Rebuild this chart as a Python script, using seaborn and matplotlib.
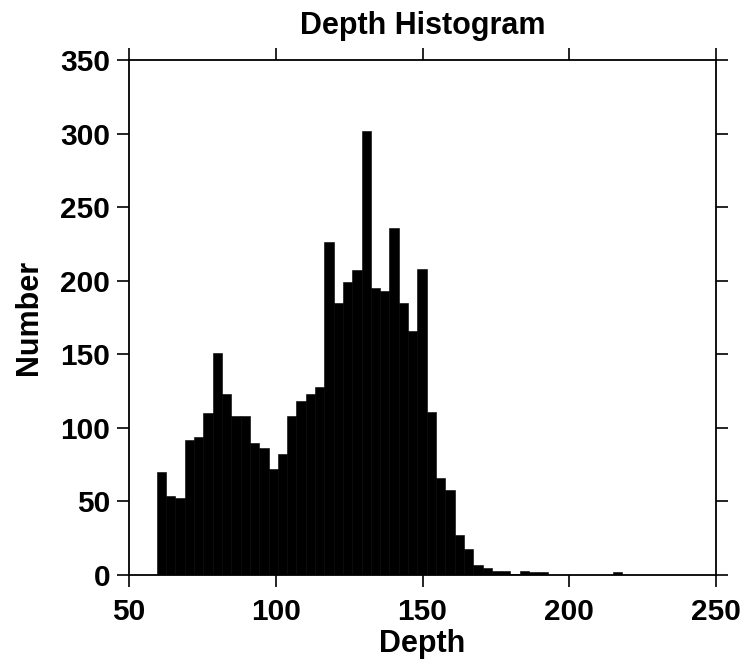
import numpy as np
import pandas as pd
import matplotlib
matplotlib.use("Agg")
import matplotlib.pyplot as plt
import seaborn as sns

# ---- data ----
depth_min = 59.5
depth_max = 218.0
n_bins = 50
counts = [70, 54, 52, 92, 94, 110, 151, 123, 108, 108,
          90, 86, 72, 82, 108, 118, 123, 128, 226, 185,
          199, 207, 302, 195, 193, 236, 185, 166, 208, 111,
          66, 58, 27, 18, 7, 5, 3, 3, 1, 3,
          2, 2, 0, 0, 0, 0, 0, 0, 0, 2]
x_ticks = [50, 100, 150, 200, 250]
y_ticks = [0, 50, 100, 150, 200, 250, 300, 350]
title = "Depth Histogram"
x_label = "Depth"
y_label = "Number"

edges = np.linspace(depth_min, depth_max, n_bins + 1)
centers = (edges[:-1] + edges[1:]) / 2
df = pd.DataFrame({"depth": centers, "count": counts})

sns.set_style("ticks")
plt.rcParams['font.family'] = ['Liberation Sans', 'DejaVu Sans']
plt.rcParams['font.weight'] = 'bold'
plt.rcParams['text.color'] = 'black'
plt.rcParams['axes.labelcolor'] = 'black'
plt.rcParams['xtick.color'] = 'black'
plt.rcParams['ytick.color'] = 'black'

fig = plt.figure(figsize=(7.44, 6.66), dpi=100)
W, H = 744, 666
ax = fig.add_axes([129 / W, 1 - 575 / H, (716 - 129) / W, (575 - 60) / H])

sns.histplot(data=df, x="depth", weights="count", bins=[float(e) for e in edges],
             color="black", alpha=1.0, edgecolor="black", linewidth=0.4, ax=ax)

ax.set_xlim(50, 250)
ax.set_ylim(0, 350)
ax.set_xticks(x_ticks)
ax.set_yticks(y_ticks)

for s in ax.spines.values():
    s.set_visible(True)
    s.set_linewidth(1.3)
    s.set_color("black")

ax.tick_params(axis="both", which="major", direction="out", length=8.5,
               width=1.2, color="black", labelcolor="black", labelsize=21.5,
               top=True, right=True, labeltop=False, labelright=False)
ax.tick_params(axis="x", pad=8)
ax.tick_params(axis="y", pad=5)
for lab in ax.get_xticklabels() + ax.get_yticklabels():
    lab.set_fontweight("bold")

ax.set_title(title, fontsize=22, fontweight="bold", color="black", y=1.0, pad=19)
ax.set_xlabel(x_label, fontsize=22, fontweight="bold", color="black")
ax.set_ylabel(y_label, fontsize=22, fontweight="bold", color="black")
ax.xaxis.set_label_coords(0.5, -0.105)
ax.yaxis.set_label_coords(-0.145, 0.5)

fig.savefig("out.png", dpi=100, facecolor="white")
